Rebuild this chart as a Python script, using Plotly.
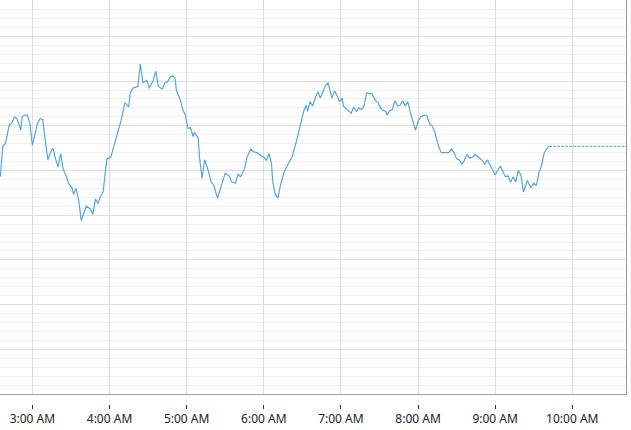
import plotly.graph_objects as go

DAY = "2024-01-01 "

times = [
    "02:35", "02:37", "02:39", "02:40", "02:42", "02:44", "02:46", "02:48", "02:49", "02:51",
    "02:52", "02:54", "02:56", "02:58", "03:00", "03:02", "03:04", "03:06", "03:08", "03:10",
    "03:12", "03:14", "03:16", "03:18", "03:20", "03:22", "03:24", "03:26", "03:28", "03:31",
    "03:32", "03:34", "03:36", "03:38", "03:40", "03:42", "03:45", "03:47", "03:49", "03:51",
    "03:53", "03:55", "03:57", "03:58", "04:01", "04:03", "04:06", "04:08", "04:09", "04:12",
    "04:15", "04:16", "04:18", "04:20", "04:22", "04:24", "04:26", "04:29", "04:31", "04:34",
    "04:36", "04:38", "04:41", "04:43", "04:45", "04:47", "04:49", "04:51", "04:52", "04:55",
    "04:57", "04:59", "05:01", "05:03", "05:05", "05:06", "05:09", "05:10", "05:12", "05:14",
    "05:17", "05:19", "05:21", "05:24", "05:26", "05:28", "05:30", "05:33", "05:35", "05:38",
    "05:40", "05:42", "05:45", "05:47", "05:50", "05:52", "05:55", "05:58", "06:00", "06:02",
    "06:04", "06:06", "06:07", "06:09", "06:11", "06:13", "06:16", "06:20", "06:22", "06:26",
    "06:28", "06:31", "06:33", "06:34", "06:36", "06:38", "06:40", "06:42", "06:44", "06:46",
    "06:48", "06:50", "06:53", "06:55", "06:57", "06:59", "07:01", "07:02", "07:05", "07:08",
    "07:10", "07:12", "07:14", "07:16", "07:18", "07:20", "07:22", "07:24", "07:27", "07:29",
    "07:30", "07:32", "07:35", "07:36", "07:38", "07:40", "07:42", "07:44", "07:46", "07:48",
    "07:50", "07:52", "07:54", "07:56", "07:58", "08:00", "08:02", "08:05", "08:07", "08:09",
    "08:11", "08:13", "08:16", "08:18", "08:21", "08:24", "08:26", "08:28", "08:30", "08:32",
    "08:34", "08:36", "08:38", "08:40", "08:43", "08:44", "08:47", "08:50", "08:52", "08:54",
    "08:56", "08:58", "09:00", "09:02", "09:04", "09:06", "09:08", "09:10", "09:12", "09:14",
    "09:16", "09:18", "09:20", "09:22", "09:25", "09:27", "09:28", "09:30", "09:32", "09:34",
    "09:36", "09:38", "09:40", "09:42",
]

values = [
    24.3, 27.7, 28.0, 28.8, 30.1, 30.3, 31.0, 30.8, 30.3, 29.5,
    31.0, 31.2, 31.2, 30.3, 27.8, 29.2, 30.3, 30.8, 30.7, 28.4,
    26.2, 27.0, 27.5, 26.3, 25.4, 26.9, 25.1, 24.5, 23.6, 23.0,
    22.3, 23.0, 21.7, 19.4, 20.2, 21.0, 20.7, 20.1, 21.8, 21.3,
    22.1, 22.6, 25.2, 26.3, 26.5, 27.5, 29.3, 30.1, 30.6, 32.6,
    32.1, 33.6, 34.2, 34.3, 34.4, 36.9, 34.8, 35.1, 34.2, 35.1,
    36.1, 34.4, 34.1, 34.8, 34.9, 35.4, 35.6, 35.3, 34.0, 32.9,
    31.8, 31.2, 29.7, 29.8, 28.8, 29.3, 28.6, 26.5, 24.1, 26.2,
    24.9, 23.7, 23.4, 21.9, 22.8, 23.7, 24.7, 24.4, 23.7, 23.6,
    24.6, 24.3, 25.2, 26.5, 27.4, 27.1, 27.0, 26.6, 26.5, 26.1,
    26.9, 25.8, 23.7, 22.3, 21.9, 23.4, 24.9, 26.0, 26.5, 28.6,
    29.9, 31.6, 32.3, 31.6, 32.7, 32.2, 33.1, 33.8, 33.1, 33.8,
    34.5, 34.8, 33.1, 33.9, 33.4, 32.7, 33.1, 32.2, 31.8, 31.4,
    32.1, 31.6, 32.0, 31.8, 32.2, 33.7, 33.6, 33.6, 32.8, 32.6,
    32.2, 31.8, 31.6, 31.2, 31.7, 31.8, 32.8, 32.2, 32.3, 32.8,
    32.2, 32.7, 31.5, 30.5, 29.5, 30.5, 31.0, 31.2, 31.1, 30.2,
    30.0, 29.3, 27.7, 27.0, 27.0, 27.0, 27.4, 27.0, 26.3, 26.2,
    25.7, 26.1, 26.8, 26.4, 26.5, 26.8, 26.5, 26.1, 25.7, 26.2,
    25.6, 25.1, 24.5, 25.0, 25.5, 24.9, 24.3, 24.4, 23.7, 24.3,
    23.7, 25.0, 24.5, 22.6, 23.9, 23.3, 23.1, 23.6, 23.3, 24.7,
    25.5, 26.9, 27.4, 27.7,
]

# flat continuation (finely dashed) after the last reading
flat_times = ["09:42", "10:42"]
flat_values = [27.7, 27.7]

x_start, x_end = "02:34:48", "10:41:47"
tick_start = "03:00"

LINE = "#55a6dd"

X = [DAY + t for t in times]
FX = [DAY + t for t in flat_times]
xrange_ = [DAY + x_start, DAY + x_end]

fig = go.Figure()
fig.add_trace(go.Scatter(x=X, y=values, mode="lines",
                         line=dict(color=LINE, width=1.2), showlegend=False,
                         hoverinfo="skip"))
fig.add_trace(go.Scatter(x=FX, y=flat_values, mode="lines",
                         line=dict(color=LINE, width=1, dash="3px,1px"), showlegend=False,
                         hoverinfo="skip"))
# helper trace for the separate tick-label axis
fig.add_trace(go.Scatter(x=xrange_, y=[0, 0], xaxis="x2", yaxis="y2", mode="lines",
                         line=dict(color="rgba(0,0,0,0)", width=0), showlegend=False,
                         hoverinfo="skip"))

H = 430.0
fig.update_layout(
    width=631, height=430,
    margin=dict(l=0, r=5, t=0, b=0, autoexpand=False),
    paper_bgcolor="white", plot_bgcolor="white",
    xaxis=dict(type="date", range=xrange_, dtick=3600000, tick0=DAY + tick_start,
               showgrid=True, gridcolor="#dddddd", gridwidth=1,
               showticklabels=False, ticks="", showline=True, linecolor="#a6a6a6",
               linewidth=1, zeroline=False, anchor="y"),
    yaxis=dict(domain=[(H - 394) / H, 1], range=[0, 44.07], dtick=5,
               showgrid=True, gridcolor="#dedede", gridwidth=1,
               minor=dict(dtick=1, showgrid=True, gridcolor="#f0f0f0", gridwidth=1),
               showticklabels=False, ticks="", zeroline=False,
               side="right", showline=True, linecolor="#9a9a9a", linewidth=1),
    xaxis2=dict(type="date", range=xrange_, dtick=3600000, tick0=DAY + tick_start,
                anchor="y2", showgrid=False, showline=False, zeroline=False,
                ticks="outside", ticklen=4, tickwidth=1, tickcolor="#333333",
                tickformat="%-I:%M %p",
                tickfont=dict(family="Noto Sans, Open Sans, sans-serif", size=12, color="#222222")),
    yaxis2=dict(domain=[(H - 404) / H, (H - 403) / H], range=[0, 1], visible=False),
)

fig.write_html("out.html", config={"displayModeBar": False},
               post_script="document.body.style.margin='0';document.body.style.overflow='hidden';")
